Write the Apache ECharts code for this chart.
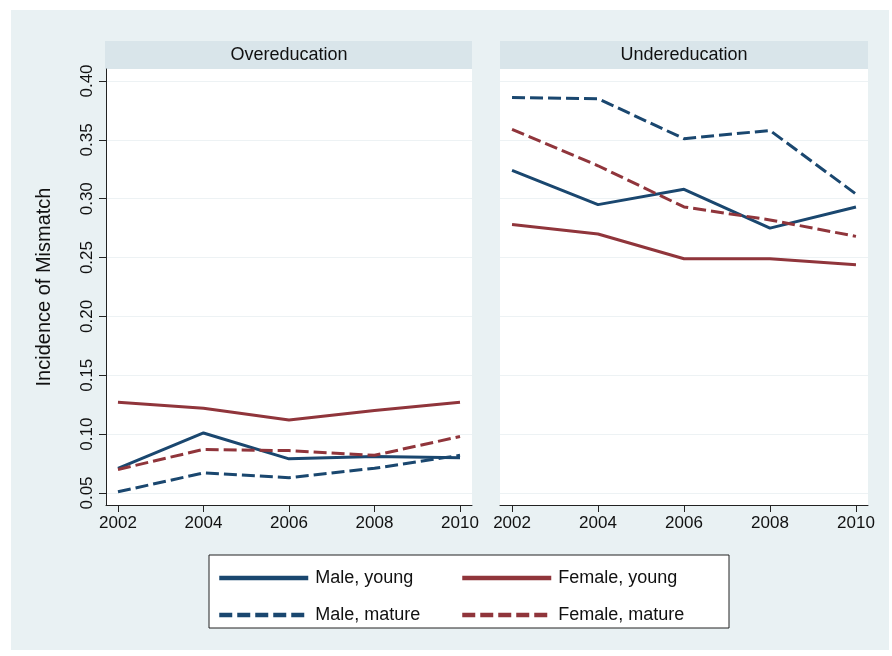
<!DOCTYPE html>
<html>
<head>
<meta charset="utf-8">
<title>Incidence of Mismatch</title>
<script src="https://cdn.jsdelivr.net/npm/echarts@6/dist/echarts.min.js"></script>
<style>
  html, body { margin: 0; padding: 0; background: #fff; }
  #chart { width: 892px; height: 656px; }
</style>
</head>
<body>
<div id="chart"></div>
<script>
// years on the x axis
const years = [2002, 2004, 2006, 2008, 2010]
const yTicks = [0.05, 0.10, 0.15, 0.20, 0.25, 0.30, 0.35, 0.40]

// overeducation panel
const overMaleYoung = [0.071, 0.101, 0.079, 0.081, 0.080]
const overMaleMature = [0.051, 0.067, 0.063, 0.071, 0.082]
const overFemaleYoung = [0.127, 0.122, 0.112, 0.120, 0.127]
const overFemaleMature = [0.070, 0.087, 0.086, 0.082, 0.098]

// undereducation panel
const underMaleYoung = [0.324, 0.295, 0.308, 0.275, 0.293]
const underMaleMature = [0.386, 0.385, 0.351, 0.358, 0.304]
const underFemaleYoung = [0.278, 0.270, 0.249, 0.249, 0.244]
const underFemaleMature = [0.359, 0.328, 0.293, 0.282, 0.268]

const navy = '#1a476f'
const maroon = '#90353b'
const font = 'Liberation Sans, Arial, sans-serif'

function pairs(vals) {
  return years.map((y, i) => [y, vals[i]])
}

function line(name, vals, color, dashed, idx) {
  return {
    name: name,
    type: 'line',
    xAxisIndex: idx,
    yAxisIndex: idx,
    data: pairs(vals),
    symbol: 'none',
    smooth: false,
    lineStyle: {
      color: color,
      width: 3,
      type: dashed ? [13, 5] : 'solid'
    },
    itemStyle: { color: color }
  }
}

function xAxisOf(idx) {
  return {
    type: 'value',
    gridIndex: idx,
    min: 2001.72,
    max: 2010.28,
    axisLine: { show: true, lineStyle: { color: '#222', width: 1 } },
    axisTick: { show: true, length: 7, customValues: years, lineStyle: { color: '#222' } },
    axisLabel: {
      customValues: years,
      color: '#111',
      fontFamily: font,
      fontSize: 17,
      margin: 10,
      formatter: v => String(v)
    },
    splitLine: { show: false }
  }
}

function yAxisOf(idx) {
  const left = idx === 0
  return {
    type: 'value',
    gridIndex: idx,
    min: 0.0398,
    max: 0.4102,
    name: left ? 'Incidence of Mismatch' : '',
    nameLocation: 'middle',
    nameGap: 52,
    nameTextStyle: { color: '#111', fontFamily: font, fontSize: 20 },
    axisLine: { show: left, lineStyle: { color: '#222', width: 1 } },
    axisTick: { show: left, length: 7, customValues: yTicks, lineStyle: { color: '#222' } },
    axisLabel: {
      show: left,
      customValues: yTicks,
      rotate: 90,
      color: '#111',
      fontFamily: font,
      fontSize: 17,
      margin: 10,
      formatter: v => v.toFixed(2)
    },
    splitLine: { show: true, lineStyle: { color: '#edf2f4', width: 1 } }
  }
}

const chart = echarts.init(document.getElementById('chart'))

const legendBase = {
  orient: 'vertical',
  top: 569,
  padding: 0,
  itemWidth: 89,
  itemHeight: 14,
  itemGap: 19,
  selectedMode: false,
  itemStyle: { opacity: 0 },
  lineStyle: { width: 4.5 },
  textStyle: { color: '#111', fontFamily: font, fontSize: 18, padding: [0, 0, 0, 2] }
}

const option = {
  animation: false,
  backgroundColor: '#fff',
  graphic: [
    // light graph region
    { type: 'rect', z: -10, shape: { x: 11, y: 10, width: 878, height: 640 }, style: { fill: '#e9f1f3' } },
    // panel headers
    { type: 'rect', shape: { x: 105, y: 41, width: 367, height: 28 }, style: { fill: '#d9e5ea' } },
    { type: 'rect', shape: { x: 500, y: 41, width: 368, height: 28 }, style: { fill: '#d9e5ea' } },
    { type: 'text', x: 289, y: 55, style: { text: 'Overeducation', fill: '#111', font: '18px ' + font, textAlign: 'center', textVerticalAlign: 'middle' } },
    { type: 'text', x: 684, y: 55, style: { text: 'Undereducation', fill: '#111', font: '18px ' + font, textAlign: 'center', textVerticalAlign: 'middle' } },
    // legend box
    { type: 'rect', z: 1, shape: { x: 209, y: 555, width: 520, height: 73 }, style: { fill: '#fff', stroke: '#222', lineWidth: 1 } }
  ],
  grid: [
    { left: 106, right: 420, top: 69, bottom: 151, show: true, backgroundColor: '#fff', borderWidth: 0 },
    { left: 500, right: 24, top: 69, bottom: 151, show: true, backgroundColor: '#fff', borderWidth: 0 }
  ],
  xAxis: [xAxisOf(0), xAxisOf(1)],
  yAxis: [yAxisOf(0), yAxisOf(1)],
  legend: [
    Object.assign({}, legendBase, { data: ['Male, young', 'Male, mature'], left: 217 }),
    Object.assign({}, legendBase, { data: ['Female, young', 'Female, mature'], left: 460 })
  ],
  series: [
    line('Male, young', overMaleYoung, navy, false, 0),
    line('Female, young', overFemaleYoung, maroon, false, 0),
    line('Male, mature', overMaleMature, navy, true, 0),
    line('Female, mature', overFemaleMature, maroon, true, 0),
    line('Male, young', underMaleYoung, navy, false, 1),
    line('Female, young', underFemaleYoung, maroon, false, 1),
    line('Male, mature', underMaleMature, navy, true, 1),
    line('Female, mature', underFemaleMature, maroon, true, 1)
  ]
}

chart.setOption(option)
</script>
</body>
</html>
